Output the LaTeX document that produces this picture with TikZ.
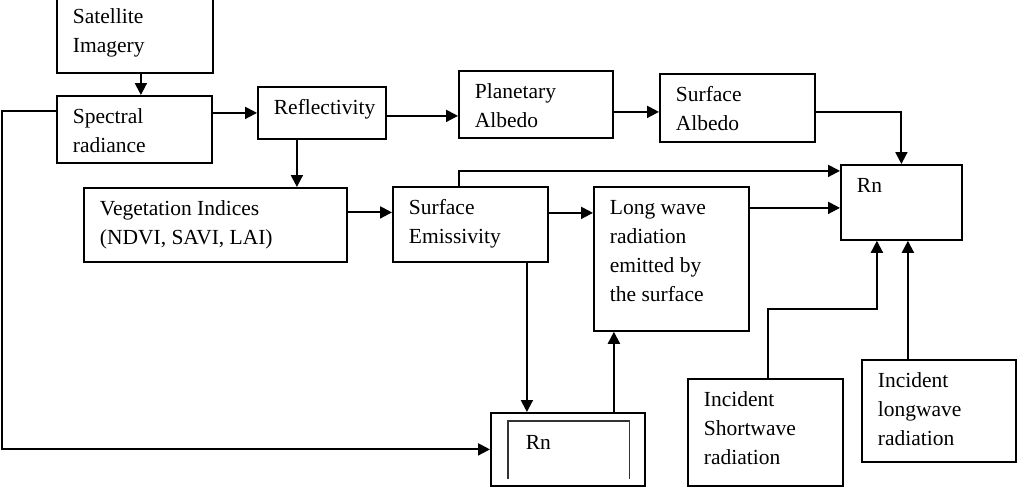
\documentclass[tikz,border=0pt]{standalone}
\usepackage{fontspec}
\setmainfont{Liberation Serif}
\usepackage{tikz}
\usetikzlibrary{arrows.meta, positioning}
\tikzset{
  every node/.style={font=\fontsize{21.5pt}{29pt}\selectfont},
  blk/.style 2 args={draw, line width=1.8pt, inner xsep=16pt, inner ysep=7.5pt, anchor=north west,
    execute at begin node={\begin{minipage}[c][\dimexpr#2-\pgfkeysvalueof{/pgf/inner ysep}*2\relax][t]{\dimexpr#1-\pgfkeysvalueof{/pgf/inner xsep}*2\relax}\strut},
    execute at end node={\end{minipage}}},
  arr/.style={-{Triangle[length=12pt,width=12pt]}, line width=2pt},
}

\begin{document}
\begin{tikzpicture}[x=1pt, y=-1pt]
  \useasboundingbox (0,0) rectangle (1020,490);
  \node[blk={156pt}{77pt}] (sat) at (56,-5) {Satellite\\Imagery};
  \node[blk={155pt}{67pt}] (spec) at (56,95) {Spectral\\radiance};
  \node[blk={128pt}{52pt}] (refl) at (257,86) {Reflectivity};
  \node[blk={154pt}{67pt}] (plan) at (458,70) {Planetary\\Albedo};
  \node[blk={155pt}{68pt}] (salb) at (659,73) {Surface\\Albedo};
  \node[blk={121pt}{75pt}] (rnA) at (840,164) {Rn};
  \node[blk={263pt}{74pt}] (veg) at (83,187) {Vegetation Indices\\(NDVI, SAVI, LAI)};
  \node[blk={155pt}{75pt}] (emis) at (392,186) {Surface\\Emissivity};
  \node[blk={155pt}{144pt}] (lw) at (593,186) {Long wave\\radiation\\emitted by\\the surface};
  \node[blk={154pt}{73pt}, inner xsep=35pt, inner ysep=16pt] (rnB) at (490,412) {Rn};
  \node[blk={155pt}{107pt}] (isw) at (687,378) {Incident\\Shortwave\\radiation};
  \node[blk={154pt}{102pt}] (ilw) at (861,359) {Incident\\longwave\\radiation};
  \coordinate (lft) at (2,0);

  % inner frame of the lower Rn box
  \draw[line width=1.2pt, black!80] ([xshift=18pt, yshift=8pt]rnB.south west) |- ([xshift=-16pt, yshift=-9pt]rnB.north east) -- ([xshift=-16pt, yshift=8pt]rnB.south east);

  \draw[arr] ([xshift=6pt]sat.south) -- ([xshift=6pt]sat.south |- spec.north);
  \draw[arr] (spec.east |- refl.west) -- (refl.west);
  \draw[arr] ([yshift=-3pt]refl.east) -- ([yshift=-3pt]refl.east -| plan.west);
  \draw[arr] ([yshift=-4pt]salb.west -| plan.east) -- ([yshift=-4pt]salb.west);
  \draw[arr] ([yshift=-4pt]salb.east) -| (rnA.north);
  \draw[arr] ([xshift=-25pt]refl.south) -- ([xshift=-25pt]refl.south |- veg.north);
  \draw[arr] ([yshift=12pt]emis.west -| veg.east) -- ([yshift=12pt]emis.west);
  \draw[arr] ([yshift=11.5pt]emis.east) -- ([yshift=11.5pt]emis.east -| lw.west);
  \draw[arr] ([xshift=-11.5pt]emis.north) |- ([yshift=31.5pt]rnA.west);
  \draw[arr] ([yshift=-5.5pt]rnA.west -| lw.east) -- ([yshift=-5.5pt]rnA.west);
  \draw[arr] ([xshift=56.5pt]emis.south) -- ([xshift=56.5pt]emis.south |- rnB.north);
  \draw[arr] ([xshift=46pt]rnB.north) -- ([xshift=46pt]rnB.north |- lw.south);
  \draw[arr] ([yshift=18pt]spec.west) -| (lft |- rnB.west) -- (rnB.west);
  \draw[arr] ([xshift=2.5pt]isw.north) -- ++(0,-69) -| ([xshift=-24.5pt]rnA.south);
  \draw[arr] ([xshift=-31pt]ilw.north) -- ([xshift=-31pt]ilw.north |- rnA.south);
\end{tikzpicture}
\end{document}
